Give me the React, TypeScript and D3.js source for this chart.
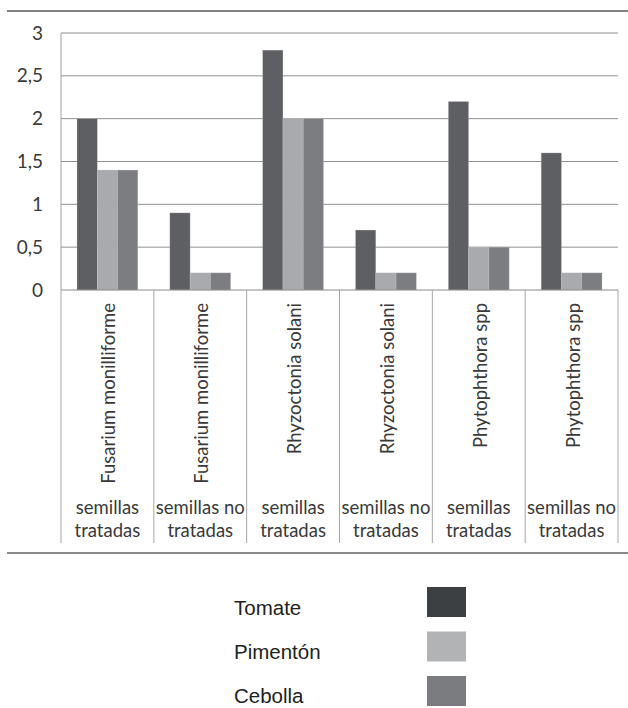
import React from "react";
import * as d3 from "d3";

const categories = [
  ["Fusarium monilliforme", "semillas|tratadas"],
  ["Fusarium monilliforme", "semillas no|tratadas"],
  ["Rhyzoctonia solani", "semillas|tratadas"],
  ["Rhyzoctonia solani", "semillas no|tratadas"],
  ["Phytophthora spp", "semillas|tratadas"],
  ["Phytophthora spp", "semillas no|tratadas"],
];
const series = ["Tomate", "Pimentón", "Cebolla"];
const tomate = [2, 0.9, 2.8, 0.7, 2.2, 1.6];
const pimenton = [1.4, 0.2, 2, 0.2, 0.5, 0.2];
const cebolla = [1.4, 0.2, 2, 0.2, 0.5, 0.2];
const yTicks = [0, 0.5, 1, 1.5, 2, 2.5, 3];
const yTickLabels = ["0", "0,5", "1", "1,5", "2", "2,5", "3"];

const values = [tomate, pimenton, cebolla];
const barColors = ["#5e5f63", "#a8aaad", "#7c7d81"];
const legendColors = ["#3d4043", "#b1b3b5", "#7b7c80"];

export default function App() {
  const W = 628, H = 708;
  const left = 61, right = 618, top = 33, zero = 290;
  const x = d3.scaleBand<number>().domain(d3.range(categories.length)).range([left, right]).padding(0);
  const inner = d3.scaleBand<string>().domain(series).range([0, x.bandwidth()]).paddingInner(0).paddingOuter(0.79);
  const y = d3.scaleLinear().domain([0, 3]).range([zero, top]);
  const catFont = "Lato, 'Open Sans', sans-serif";
  const bounds = [...d3.range(categories.length).map((i) => x(i)!), right];

  return (
    <svg width={W} height={H} style={{ position: "absolute", left: 0, top: 0, background: "#fff" }}>
      <rect x={0} y={0} width={W} height={H} fill="#fff" />
      <line x1={7} x2={W} y1={11} y2={11} stroke="#808080" strokeWidth={2} />
      <line x1={7} x2={W} y1={553} y2={553} stroke="#8a8a8a" strokeWidth={2} />
      {yTicks.slice(1).map((t) => (
        <line key={t} x1={left} x2={right} y1={y(t)} y2={y(t)} stroke="#909090" strokeWidth={1} />
      ))}
      <line x1={left} x2={left} y1={top} y2={zero} stroke="#a0a0a0" strokeWidth={1} />
      {yTicks.map((t, i) => (
        <text key={t} x={43} y={y(t)} dy="0.35em" textAnchor="end" fontFamily={catFont} fontSize={19} fill="#3a3a3a">
          {yTickLabels[i]}
        </text>
      ))}
      {categories.map((c, i) =>
        series.map((s, k) => (
          <rect
            key={i + s}
            x={x(i)! + inner(s)!}
            y={y(values[k][i])}
            width={inner.bandwidth()}
            height={zero - y(values[k][i])}
            fill={barColors[k]}
            stroke="#c8c8ca"
            strokeOpacity={0.5}
            strokeWidth={0.6}
          />
        ))
      )}
      <line x1={left} x2={right} y1={zero} y2={zero} stroke="#8a8a8a" strokeWidth={1} />
      {bounds.map((b, i) => (
        <line key={i} x1={b} x2={b} y1={zero} y2={543} stroke="#a6a6a6" strokeWidth={1} />
      ))}
      {categories.map((c, i) => {
        const cx = x(i)! + x.bandwidth() / 2;
        const lines = c[1].split("|");
        return (
          <g key={i} fontFamily={catFont} fontSize={18.5} fill="#3a3a3a">
            <text transform={`translate(${cx + 8},303) rotate(-90)`} textAnchor="end">
              {c[0]}
            </text>
            {lines.map((l, j) => (
              <text key={j} x={cx} y={514 + j * 23} textAnchor="middle">
                {l}
              </text>
            ))}
          </g>
        );
      })}
      {series.map((s, k) => (
        <g key={s}>
          <text x={234} y={615 + k * 44} fontFamily="'Liberation Sans', Arial, sans-serif" fontSize={20.5} fill="#222">
            {s}
          </text>
          <rect x={427} y={587 + k * 44.5} width={39} height={30} fill={legendColors[k]} />
        </g>
      ))}
    </svg>
  );
}
